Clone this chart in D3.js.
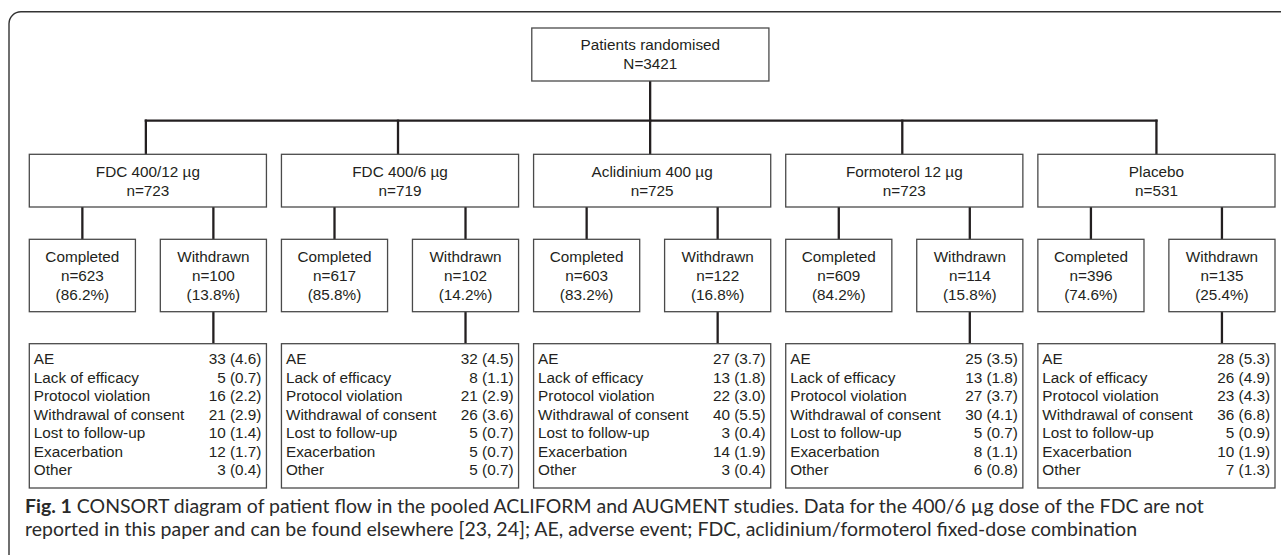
<!DOCTYPE html>
<html><head><meta charset="utf-8">
<script src="https://cdn.jsdelivr.net/npm/d3@7"></script>
<style>html,body{margin:0;padding:0;background:#fff;overflow:hidden}svg{display:block}</style>
</head><body>
<script>
// ---------- data ----------
const topLabel = "Patients randomised";
const topN = 3421;
const arms = ["FDC 400/12 µg", "FDC 400/6 µg", "Aclidinium 400 µg", "Formoterol 12 µg", "Placebo"];
const armN = [723, 719, 725, 723, 531];
const completedN = [623, 617, 603, 609, 396];
const completedPct = ["86.2", "85.8", "83.2", "84.2", "74.6"];
const withdrawnN = [100, 102, 122, 114, 135];
const withdrawnPct = ["13.8", "14.2", "16.8", "15.8", "25.4"];
const reasons = ["AE", "Lack of efficacy", "Protocol violation", "Withdrawal of consent", "Lost to follow-up", "Exacerbation", "Other"];
const reasonN = [
  [33, 5, 16, 21, 10, 12, 3],
  [32, 8, 21, 26, 5, 5, 5],
  [27, 13, 22, 40, 3, 14, 3],
  [25, 13, 27, 30, 5, 8, 6],
  [28, 26, 23, 36, 5, 10, 7]
];
const reasonPct = [
  ["4.6", "0.7", "2.2", "2.9", "1.4", "1.7", "0.4"],
  ["4.5", "1.1", "2.9", "3.6", "0.7", "0.7", "0.7"],
  ["3.7", "1.8", "3.0", "5.5", "0.4", "1.9", "0.4"],
  ["3.5", "1.8", "3.7", "4.1", "0.7", "1.1", "0.8"],
  ["5.3", "4.9", "4.3", "6.8", "0.9", "1.9", "1.3"]
];
const outcomes = ["Completed", "Withdrawn"];
const captionBold = "Fig. 1";
const captionLine1 = " CONSORT diagram of patient flow in the pooled ACLIFORM and AUGMENT studies. Data for the 400/6 µg dose of the FDC are not";
const captionLine2 = "reported in this paper and can be found elsewhere [23, 24]; AE, adverse event; FDC, aclidinium/formoterol fixed-dose combination";

// ---------- layout ----------
const W = 1281, H = 555;
const ink = "#231f20", boxStroke = "#4a4a4a";
const fontD = "'Liberation Sans', Arial, Helvetica, sans-serif";
const fs = 15.3;

const svg = d3.select("body").append("svg").attr("width", W).attr("height", H);

const x = d3.scaleBand().domain(arms).range([29.3, 1275]).paddingInner(0.0595).paddingOuter(0);
const bw = x.bandwidth();
const xs = d3.scaleBand().domain(outcomes).range([0, bw]).paddingInner(0.19).paddingOuter(0);
const sbw = xs.bandwidth();

const Y = {
  frame: 11.7,
  topBox: [28, 81],
  hLine: 120.7,
  armBox: [154.3, 207],
  subBox: [239.3, 311.7],
  table: [343.7, 488]
};
const rowY = d3.scalePoint().domain(reasons).range([364, 475]);

// frame
const r = 12, fx = 9;
svg.append("path")
  .attr("d", `M${fx},${H} L${fx},${Y.frame + r} A${r},${r} 0 0 1 ${fx + r},${Y.frame} L${W},${Y.frame}`)
  .attr("fill", "none").attr("stroke", "#333").attr("stroke-width", 1.4);

function box(x0, y0, w, h) {
  svg.append("rect").attr("x", x0).attr("y", y0).attr("width", w).attr("height", h)
    .attr("fill", "#fff").attr("stroke", boxStroke).attr("stroke-width", 1.3);
}
function line(x1, y1, x2, y2) {
  svg.append("line").attr("x1", x1).attr("y1", y1).attr("x2", x2).attr("y2", y2)
    .attr("stroke", ink).attr("stroke-width", 2.3).attr("stroke-linecap", "square");
}
function text(tx, ty, s, anchor) {
  svg.append("text").attr("x", tx).attr("y", ty).attr("text-anchor", anchor || "middle")
    .attr("font-family", fontD).attr("font-size", fs).attr("fill", ink).text(s);
}

// connectors (drawn first)
const mid = arms[2];
const topCx = x(mid) + bw / 2 - 2;
line(topCx, Y.topBox[1], topCx, Y.hLine);
const cFirst = x(arms[0]) + bw / 2 - 2, cLast = x(arms[arms.length - 1]) + bw / 2;
line(cFirst, Y.hLine, cLast, Y.hLine);
arms.forEach((a, i) => {
  const cx = x(a) + bw / 2 - (i === arms.length - 1 ? 0 : 2);
  line(cx, Y.hLine, cx, Y.armBox[0]);
  outcomes.forEach(o => {
    const scx = x(a) + xs(o) + sbw / 2;
    line(scx, Y.armBox[1], scx, Y.subBox[0]);
  });
  const wcx = x(a) + xs("Withdrawn") + sbw / 2;
  line(wcx, Y.subBox[1], wcx, Y.table[0]);
});

// top box
box(x(mid) - 1.8, Y.topBox[0], bw, Y.topBox[1] - Y.topBox[0]);
text(x(mid) - 1.8 + bw / 2, 50, topLabel);
text(x(mid) - 1.8 + bw / 2, 69, "N=" + topN);

// arm boxes
arms.forEach((a, i) => {
  const x0 = x(a);
  box(x0, Y.armBox[0], bw, Y.armBox[1] - Y.armBox[0]);
  text(x0 + bw / 2, 176.7, a);
  text(x0 + bw / 2, 195.7, "n=" + armN[i]);

  // sub boxes
  const vals = {Completed: [completedN[i], completedPct[i]], Withdrawn: [withdrawnN[i], withdrawnPct[i]]};
  outcomes.forEach(o => {
    const sx = x0 + xs(o);
    box(sx, Y.subBox[0], sbw, Y.subBox[1] - Y.subBox[0]);
    text(sx + sbw / 2, 261.7, o);
    text(sx + sbw / 2, 280.7, "n=" + vals[o][0]);
    text(sx + sbw / 2, 299.5, "(" + vals[o][1] + "%)");
  });

  // table
  box(x0, Y.table[0], bw, Y.table[1] - Y.table[0]);
  reasons.forEach((rs, j) => {
    text(x0 + 4.5, rowY(rs), rs, "start");
    text(x0 + bw - 5, rowY(rs), reasonN[i][j] + " (" + reasonPct[i][j] + ")", "end");
  });
});

// caption
const capFont = "Lato, 'Open Sans', sans-serif";
const cap1 = svg.append("text").attr("x", 25).attr("y", 513)
  .attr("font-family", capFont).attr("font-size", 16).attr("fill", "#2a2a2a");
cap1.append("tspan").attr("font-weight", "bold").text(captionBold);
cap1.append("tspan").text(captionLine1);
const cap2 = svg.append("text").attr("x", 25).attr("y", 536)
  .attr("font-family", capFont).attr("font-size", 16).attr("fill", "#2a2a2a").text(captionLine2);
const target = 1180;
const measured = cap1.node().getComputedTextLength();
const capFs = 16 * target / measured;
cap1.attr("font-size", capFs);
cap2.attr("font-size", capFs);
</script>
</body></html>
